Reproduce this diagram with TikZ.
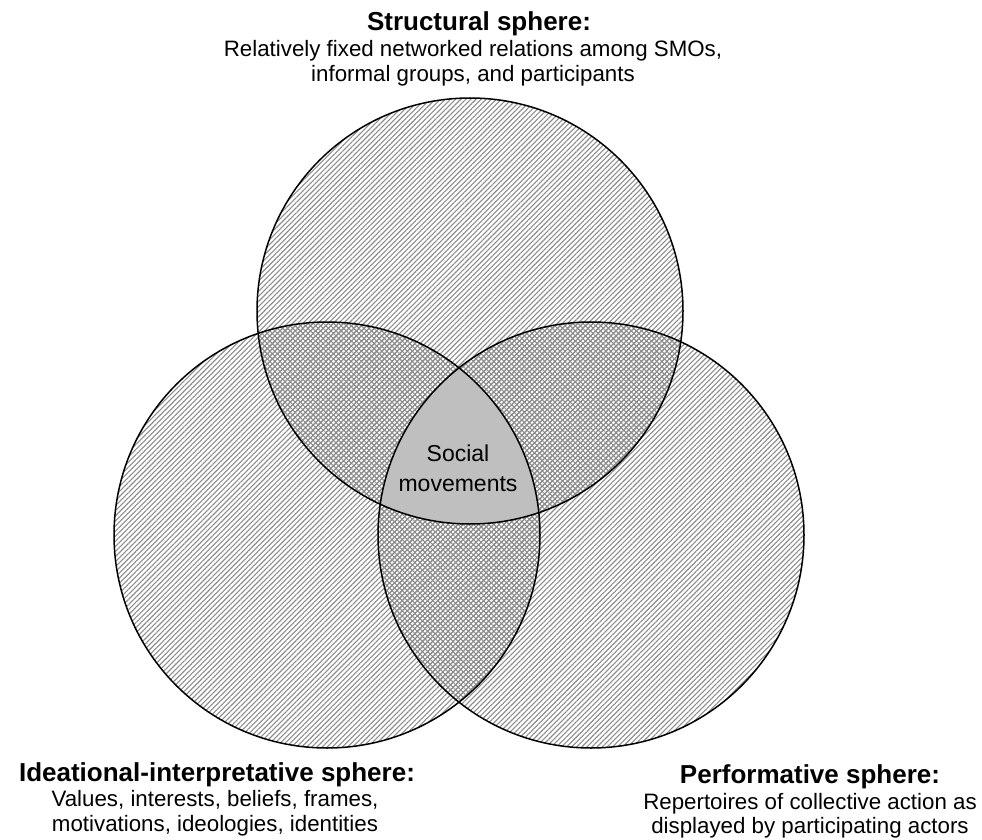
\documentclass[tikz,border=0pt]{standalone}
\usepackage{fontspec}
\setmainfont{Liberation Sans}
\usetikzlibrary{patterns.meta}
\tikzset{
  hatchA/.style={pattern={Lines[angle=45,distance=3.6pt,line width=1.1pt]},pattern color=black!45},
  hatchB/.style={pattern={Lines[angle=-45,distance=3.6pt,line width=1.1pt]},pattern color=black!45},
  corefill/.style={fill=black!25},
  rim/.style={draw=black,line width=1.5pt},
  ttl/.style={font=\fontsize{26}{29}\selectfont\bfseries,inner sep=0pt,anchor=base},
  bdy/.style={font=\fontsize{22.3}{25}\selectfont,inner sep=0pt,anchor=base},
  ctr/.style={font=\fontsize{23}{26}\selectfont,inner sep=0pt,anchor=base}
}
\begin{document}
\begin{tikzpicture}[x=1pt,y=-1pt]
\useasboundingbox (0,0) rectangle (982,840);
\coordinate (cT) at (470,311);
\coordinate (cL) at (327,535);
\coordinate (cR) at (591,535);
% single hatching
\fill[hatchA] (cT) circle[radius=213pt];
\fill[hatchA] (cL) circle[radius=213pt];
\fill[hatchA] (cR) circle[radius=213pt];
% pairwise crosshatching
\begin{scope}
  \clip (cT) circle[radius=213pt];
  \fill[hatchB] (cL) circle[radius=213pt];
  \fill[hatchB] (cR) circle[radius=213pt];
\end{scope}
\begin{scope}
  \clip (cL) circle[radius=213pt];
  \fill[hatchB] (cR) circle[radius=213pt];
\end{scope}
% core
\begin{scope}
  \clip (cT) circle[radius=213pt];
  \clip (cL) circle[radius=213pt];
  \fill[corefill] (cR) circle[radius=213pt];
\end{scope}
% outlines
\draw[rim] (cT) circle[radius=213pt];
\draw[rim] (cL) circle[radius=213pt];
\draw[rim] (cR) circle[radius=213pt];
% texts
\node[ttl] (st) at (479,31) {Structural sphere:};
\node[bdy] (s1) at (473,57) {Relatively fixed networked relations among SMOs,};
\node[bdy] (s2) at (473,82) {informal groups, and participants};
\node[ctr] (sm1) at (458,461) {Social};
\node[ctr] (sm2) at (458,491) {movements};
\node[ttl] (it) at (217,781) {Ideational-interpretative sphere:};
\node[bdy] (i1) at (215,806) {Values, interests, beliefs, frames,};
\node[bdy] (i2) at (215,831) {motivations, ideologies, identities};
\node[ttl] (pt) at (810,783) {Performative sphere:};
\node[bdy] (p1) at (810,809) {Repertoires of collective action as};
\node[bdy] (p2) at (810,833) {displayed by participating actors};
\end{tikzpicture}
\end{document}
